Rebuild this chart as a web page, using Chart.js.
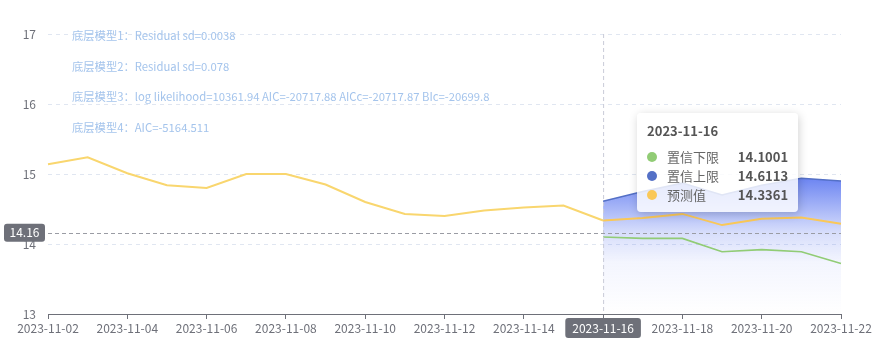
<!DOCTYPE html>
<html>
<head>
<meta charset="utf-8">
<script src="https://cdn.jsdelivr.net/npm/chart.js@4"></script>
<style>
  html, body { margin: 0; padding: 0; background: #fff; }
  #wrap { position: relative; width: 876px; height: 344px; }
  #tip {
    position: absolute; display: none; box-sizing: border-box;
    padding: 8px 10px 8px 10px; width: 161px;
    background: rgba(255,255,255,0.82); border-radius: 4px;
    box-shadow: 1px 2px 10px rgba(0,0,0,0.18);
    font-family: "Noto Sans CJK SC", "Noto Sans", sans-serif; color: #666;
  }
  #tip .title { font-size: 13px; font-weight: bold; line-height: 20px; margin-bottom: 6px; color: #555; }
  #tip .row { display: flex; align-items: center; font-size: 13px; line-height: 19px; }
  #tip .dot { width: 10px; height: 10px; border-radius: 50%; margin-right: 10px; }
  #tip .val { margin-left: auto; font-weight: bold; color: #555; }
</style>
</head>
<body>
<div id="wrap">
  <canvas id="chart" width="876" height="344"></canvas>
  <div id="tip"></div>
</div>
<script>
// ── DATA ──
const dates = [
  '2023-11-02', '2023-11-03', '2023-11-04', '2023-11-05', '2023-11-06', '2023-11-07', '2023-11-08',
  '2023-11-09', '2023-11-10', '2023-11-11', '2023-11-12', '2023-11-13', '2023-11-14', '2023-11-15',
  '2023-11-16', '2023-11-17', '2023-11-18', '2023-11-19', '2023-11-20', '2023-11-21', '2023-11-22'
];
const actualValues   = [15.14, 15.24, 15.01, 14.84, 14.80, 15.00, 15.00, 14.85, 14.60, 14.43, 14.40, 14.48, 14.52, 14.55, 14.3361, null, null, null, null, null, null];
const forecastValues = [null, null, null, null, null, null, null, null, null, null, null, null, null, null, 14.3361, 14.37, 14.43, 14.27, 14.36, 14.38, 14.29];
const lowerValues    = [null, null, null, null, null, null, null, null, null, null, null, null, null, null, 14.1001, 14.08, 14.08, 13.89, 13.92, 13.89, 13.72];
const upperValues    = [null, null, null, null, null, null, null, null, null, null, null, null, null, null, 14.6113, 14.75, 14.87, 14.70, 14.84, 14.94, 14.90];
const yTicks = [13, 14, 15, 16, 17];
const modelNotes = [
  '底层模型1：Residual sd=0.0038',
  '底层模型2：Residual sd=0.078',
  '底层模型3：log likelihood=10361.94 AIC=-20717.88 AICc=-20717.87 BIc=-20699.8',
  '底层模型4：AIC=-5164.511'
];
const hoverIndex = 14;
const crossValue = 14.16;

const FONT = '"Noto Sans CJK SC", "Noto Sans", sans-serif';
const AXIS = '#6E7079';

// ── TOOLTIP (html) ──
function externalTip(context) {
  const { chart, tooltip } = context;
  const el = document.getElementById('tip');
  if (tooltip.opacity === 0) { el.style.display = 'none'; return; }
  const rows = tooltip.dataPoints.map(p => `
    <div class="row">
      <span class="dot" style="background:${p.dataset.borderColor}"></span>
      <span>${p.dataset.label}</span>
      <span class="val">${p.raw}</span>
    </div>`).join('');
  el.innerHTML = `<div class="title">${tooltip.title[0]}</div>${rows}`;
  el.style.display = 'block';
  el.style.left = (tooltip.caretX + 34) + 'px';
  el.style.top = (chart.chartArea.top + 79) + 'px';
}

// ── OVERLAYS: notes + crosshair ──
const overlay = {
  id: 'overlay',
  beforeDatasetsDraw(chart) {
    const c = chart.ctx;
    c.save();
    c.font = '11.3px ' + FONT;
    c.fillStyle = '#a4c4ec';
    c.textBaseline = 'middle';
    modelNotes.forEach((t, i) => c.fillText(t, 72, 36 + i * 30.5));
    c.restore();
  },
  afterDatasetsDraw(chart) {
    const c = chart.ctx;
    const { left, right, top, bottom } = chart.chartArea;
    const x = chart.scales.x.getPixelForValue(hoverIndex);
    const y = chart.scales.y.getPixelForValue(crossValue);
    c.save();
    c.lineWidth = 1;
    c.setLineDash([4, 3]);
    c.strokeStyle = '#c9ccd8';
    c.beginPath(); c.moveTo(x + 0.5, top); c.lineTo(x + 0.5, bottom); c.stroke();
    c.strokeStyle = '#9a9ca4';
    c.beginPath(); c.moveTo(left, Math.round(y) + 0.5); c.lineTo(right, Math.round(y) + 0.5); c.stroke();
    c.setLineDash([]);

    c.font = '12px ' + FONT;
    c.textAlign = 'center';
    c.textBaseline = 'middle';
    // y label
    const yl = crossValue.toFixed(2);
    c.fillStyle = AXIS;
    c.beginPath(); c.roundRect(4, y - 9, 41, 18, 3); c.fill();
    c.fillStyle = '#fff';
    c.fillText(yl, 24.5, y);
    // x label
    const xl = dates[hoverIndex];
    const w = c.measureText(xl).width + 14;
    c.fillStyle = AXIS;
    c.beginPath(); c.roundRect(x - w / 2, bottom + 4, w, 20, 3); c.fill();
    c.fillStyle = '#fff';
    c.fillText(xl, x, bottom + 14.5);
    c.restore();
  }
};

function fillGradient(ctx) {
  const chart = ctx.chart;
  const area = chart.chartArea;
  if (!area) return 'rgba(88,116,240,0.4)';
  const yTop = chart.scales.y.getPixelForValue(Math.max(...upperValues.filter(v => v != null)));
  const g = chart.ctx.createLinearGradient(0, yTop, 0, area.bottom);
  g.addColorStop(0, 'rgba(88,116,240,0.88)');
  g.addColorStop(0.4, 'rgba(88,116,240,0.24)');
  g.addColorStop(0.62, 'rgba(88,116,240,0.07)');
  g.addColorStop(1, 'rgba(88,116,240,0)');
  return g;
}

const chart = new Chart(document.getElementById('chart'), {
  type: 'line',
  data: {
    labels: dates,
    datasets: [
      { label: '置信下限', data: lowerValues, borderColor: '#91cc75', borderWidth: 1.6, pointRadius: 0, fill: false },
      { label: '置信上限', data: upperValues, borderColor: '#5470c6', borderWidth: 1.6, pointRadius: 0, fill: 'origin', backgroundColor: fillGradient },
      { label: '预测值', data: forecastValues, borderColor: '#fac858', borderWidth: 2, pointRadius: 0, fill: false },
      { label: '实际值', data: actualValues, borderColor: '#f9d66e', borderWidth: 2, pointRadius: 0, fill: false }
    ]
  },
  options: {
    responsive: false,
    animation: false,
    events: [],
    layout: { padding: { top: 34, right: 35, left: 0, bottom: 0 } },
    plugins: {
      legend: { display: false },
      filler: { drawTime: 'beforeDatasetsDraw' },
      tooltip: { enabled: false, external: externalTip }
    },
    scales: {
      x: {
        offset: false,
        grid: {
          drawOnChartArea: false, drawTicks: true, tickLength: 5,
          color: c => (c.index % 2 === 0 ? AXIS : 'transparent')
        },
        border: { display: true, color: AXIS, width: 1 },
        ticks: {
          autoSkip: false, maxRotation: 0, padding: 2, color: AXIS,
          font: { size: 12, family: FONT },
          callback: (v, i) => (i % 2 === 0 && i !== hoverIndex ? dates[i] : '')
        },
        afterFit: s => { s.height = 30; }
      },
      y: {
        min: 13, max: 17,
        afterBuildTicks: s => { s.ticks = yTicks.map(v => ({ value: v })); },
        grid: { color: '#E0E6F1', drawTicks: false },
        border: { display: false, dash: [4, 4] },
        ticks: { color: AXIS, padding: 12, font: { size: 12, family: FONT } },
        afterFit: s => { s.width = 48; }
      }
    }
  },
  plugins: [overlay]
});

chart.tooltip.setActiveElements(
  [0, 1, 2].map(d => ({ datasetIndex: d, index: hoverIndex })),
  { x: chart.scales.x.getPixelForValue(hoverIndex), y: 150 }
);
chart.update();
</script>
</body>
</html>
